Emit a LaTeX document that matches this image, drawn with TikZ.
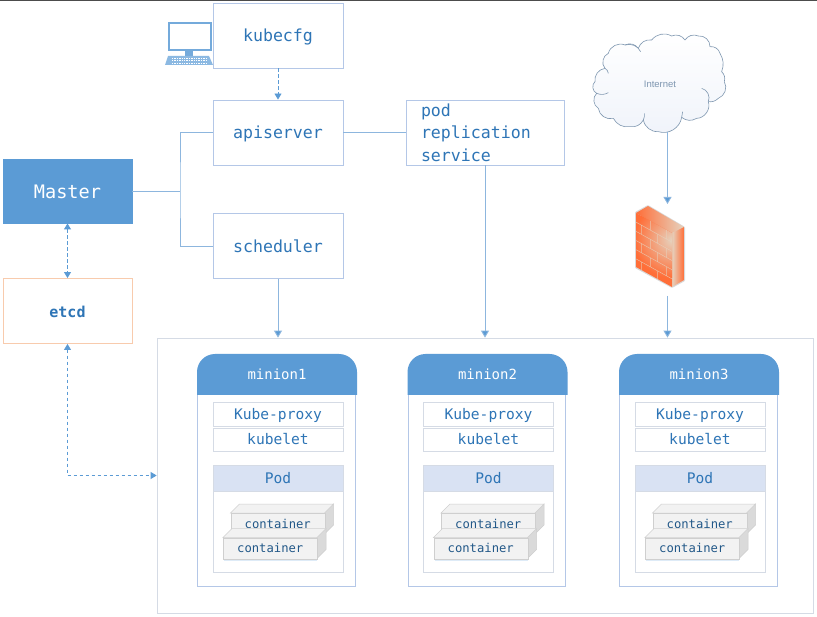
\documentclass[tikz,border=0pt]{standalone}
\usepackage{fontspec}
\setmainfont{Liberation Sans}
\newfontfamily\monof{DejaVu Sans Mono}
\usetikzlibrary{arrows.meta,calc}
\definecolor{bl}{HTML}{5B9BD5}
\definecolor{txt}{HTML}{2E75B6}
\definecolor{edge}{HTML}{B4C7E7}
\definecolor{conn}{HTML}{8DB6DE}
\definecolor{pale}{HTML}{D9E2F3}
\definecolor{soft}{HTML}{D5DBE5}
\definecolor{grayf}{HTML}{F2F2F2}
\definecolor{grays}{HTML}{DADADA}
\definecolor{grayl}{HTML}{CFCFCF}
\definecolor{salmon}{HTML}{F8CBAD}
\definecolor{cloudl}{HTML}{7F97B0}
\definecolor{fwo}{HTML}{FF6E38}
\definecolor{fwb}{HTML}{E6D2BE}
\tikzset{
 x=1pt,y=-1pt,
 box/.style={draw=edge,line width=0.9pt,fill=white,text=txt,inner sep=0pt,text height=13pt,text depth=0pt,font=\monof\fontsize{16.6}{18}\selectfont,minimum width=130pt,minimum height=65pt},
 inbox/.style={draw=soft,line width=0.8pt,fill=white,text=txt,inner sep=0pt,text height=11pt,text depth=0pt,font=\monof\fontsize{14.6}{16}\selectfont,minimum width=130pt,minimum height=24pt},
 podbox/.style={inbox,fill=pale,minimum height=26pt},
 ctext/.style={text=txt!75!black,inner sep=0pt,font=\monof\fontsize{12.2}{14}\selectfont},
 line/.style={draw=conn,line width=0.9pt},
 arrow/.style={line,-{Triangle[length=7pt,width=8pt,fill=bl]}},
 dline/.style={line,draw=bl,dash pattern=on 3.5pt off 2.5pt,{Triangle[length=6pt,width=7pt,fill=bl]}-{Triangle[length=6pt,width=7pt,fill=bl]}},
 dend/.style={line,draw=bl,dash pattern=on 3.5pt off 2.5pt,-{Triangle[length=6pt,width=7pt,fill=bl]}},
 cbox/.style={draw=grayl,line width=0.5pt,fill=grayf},
 cside/.style={draw=grayl,line width=0.5pt,fill=grays},
}
\newcommand{\mycontainer}[4]{%
 \fill[bl!20] (#1+1,#2+21) rectangle (#1+94,#2+23);
 \draw[cside] (#1+94,#2) -- (#1+103,#2-9) -- (#1+103,#2+12) -- (#1+94,#2+21) -- cycle;
 \draw[cbox] (#1,#2) -- (#1+9,#2-9) -- (#1+103,#2-9) -- (#1+94,#2) -- cycle;
 \node[cbox,minimum width=94pt,minimum height=21pt,inner sep=0pt,anchor=north west] (#4) at (#1,#2) {};
 \node[ctext] at (#4.center) {#3};
}
\newcommand{\minion}[3]{%
 \begin{scope}[shift={(#2,0)}]
 \draw[draw=edge,line width=0.9pt,fill=white] (197.5,392) rectangle (355,586);
 \fill[bl] (197,395) -- (197,372) arc[start angle=180,end angle=270,radius=18] -- (339,354) arc[start angle=270,end angle=360,radius=18] -- (357,395) -- cycle;
 \node[text=white,inner sep=0pt,text height=11pt,text depth=0pt,font=\monof\fontsize{14}{16}\selectfont] (head#1) at (277,374) {#3};
 \node[inbox] (proxy#1) at (278,414.5) {Kube-proxy};
 \node[inbox,minimum height=23pt] (kubelet#1) at (278,439.5) {kubelet};
 \draw[draw=soft,line width=0.8pt,fill=white] (213,491) rectangle (343,572);
 \node[podbox] (pod#1) at (278,478) {Pod};
 \mycontainer{230.5}{513}{container}{ca#1}
 \mycontainer{223}{537.5}{container}{cb#1}
 \end{scope}
}
\begin{document}
\begin{tikzpicture}
\useasboundingbox (0,0) rectangle (817,617);
\fill[white] (0,0) rectangle (817,617);
\fill[black!70] (0,0) rectangle (817,1);

\node[box,minimum height=65pt] (kubecfg) at (278,35.5) {kubecfg};
\node[box] (apiserver) at (278,132.5) {apiserver};
\node[box] (scheduler) at (278,246) {scheduler};
\node[box,minimum width=158pt,text width=128pt,text height=,text depth=,align=left,font=\monof\fontsize{16.6}{22.5}\selectfont] (svc) at (485,132.5) {pod\\replication\\service};
\node[box,fill=bl,draw=bl,text=white,minimum width=129pt,minimum height=64pt,text height=15pt,font=\monof\fontsize{18.6}{20}\selectfont] (master) at (67.5,191) {Master};
\node[box,draw=salmon,minimum width=129pt,font=\monof\bfseries\fontsize{15}{18}\selectfont] (etcd) at (67.5,311) {etcd};
\node[draw=soft,line width=0.8pt,inner sep=0pt,minimum width=656pt,minimum height=275pt] (outer) at (485,475.5) {};

\minion{a}{0}{minion1}
\minion{b}{210.5}{minion2}
\minion{c}{422}{minion3}

% computer icon
\draw[bl!85,line width=2pt,fill=white] (168.5,23.5) rectangle (210.5,50);
\fill[bl!85] (185,51) rectangle (193,56);
\fill[bl!70] (168,56) -- (209,56) -- (213,65) -- (165,65) -- cycle;
\foreach \yy in {58,60.5,63}{\draw[white,line width=0.8pt,dash pattern=on 1.4pt off 1pt] (172,\yy) -- (206,\yy);}

% cloud
\begin{scope}[shift={(580,30)},x=0.3333pt,y=-0.3333pt]
\shade[top color=white,bottom color=pale!40,draw=cloudl,line width=0.6pt]
 (45,155) to[bend left=45] (75,115) to[bend left=55] (85,70) to[bend left=50] (135,45)
 to[bend left=40] (175,55) to[bend left=40] (215,30) to[bend left=40] (275,18) to[bend left=40] (315,30)
 to[bend left=40] (355,18) to[bend left=50] (390,50) to[bend left=40] (420,70) to[bend left=25] (425,125)
 to[bend left=30] (433,155) to[bend left=50] (415,205) to[bend left=25] (385,215) to[bend left=55] (350,265)
 to[bend left=35] (305,262) to[bend left=50] (235,305) to[bend left=40] (190,270) to[bend left=35] (150,290)
 to[bend left=35] (100,265) to[bend left=50] (55,235) to[bend left=55] (50,190) to[bend left=60] cycle;
\draw[cloudl,line width=0.6pt] (365,175) to[bend left=50] (385,215)
 (190,270) to[bend right=15] (193,250) (305,262) to[bend right=15] (308,245)
 (135,45) to[bend left=40] (182,65) (50,190) to[bend right=25] (85,188) (75,115) to[bend left=25] (85,130);
\end{scope}
\node[inner sep=0pt,text=cloudl,font=\fontsize{9.5}{11}\selectfont] (internet) at (660,84) {Internet};
\coordinate (cloudbot) at (667.5,132);

% firewall
\fill[black!15,rounded corners=1pt] (635,212) -- (648,205) -- (685,227) -- (685,281) -- (672,288) -- (635,268) -- cycle;
\shade[left color=fwo,right color=fwb] (636,213) -- (648,206) -- (684,227) -- (672,233) -- cycle;
\begin{scope}
\clip (672,233) -- (684,227) -- (684,280) -- (672,287) -- cycle;
\shade[left color=fwb,right color=fwo] (672,225) rectangle (684,290);
\end{scope}
\begin{scope}
\clip (636,213) -- (672,233) -- (672,287) -- (636,267) -- cycle;
\fill[fwo] (630,205) rectangle (680,290);
\shade[inner color=fwb,outer color=fwo] (672,240) circle[radius=38];
\end{scope}
\begin{scope}[shift={(636,213)},x={(36pt,-20pt)},y={(0pt,-54pt)}]
\draw[fwb,opacity=.8,line width=0.45pt] (0,.17)--(1,.17) (0,.34)--(1,.34) (0,.51)--(1,.51) (0,.68)--(1,.68) (0,.85)--(1,.85)
 (.15,.17)--(.15,.34) (.6,.17)--(.6,.34) (.4,.34)--(.4,.51) (.85,.34)--(.85,.51) (.15,.51)--(.15,.68) (.6,.51)--(.6,.68)
 (.4,.68)--(.4,.85) (.85,.68)--(.85,.85) (.6,.85)--(.6,1) (.15,.85)--(.15,1) (.4,0)--(.4,.17) (.85,0)--(.85,.17);
\end{scope}
\coordinate (fwtop) at (667.5,204);
\coordinate (fwbot) at (667.5,296);

% connectors
\coordinate (junction) at (180,191);
\draw[dend] (kubecfg) -- (apiserver);
\draw[line] (apiserver) -- (svc);
\draw[line] (master.east) -- (junction);
\draw[line] (apiserver.west) -| (junction) |- (scheduler.west);
\draw[arrow] (scheduler.south) -- (scheduler.south |- outer.north);
\draw[arrow] (svc.south) -- (svc.south |- outer.north);
\draw[arrow] (cloudbot) -- (fwtop);
\draw[arrow] (fwbot) -- (fwbot |- outer.north);
\draw[dline] (master.south) -- (etcd.north);
\draw[dline] (etcd.south) |- (outer.west);
\end{tikzpicture}
\end{document}
